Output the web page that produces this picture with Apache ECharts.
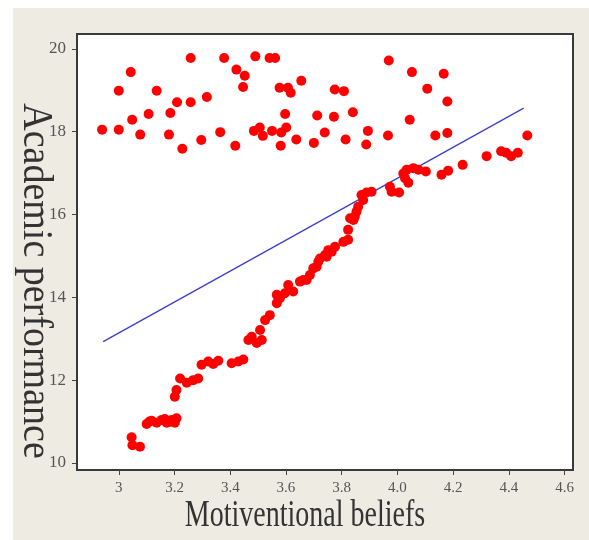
<!DOCTYPE html>
<html><head><meta charset="utf-8">
<script src="https://cdn.jsdelivr.net/npm/echarts@6/dist/echarts.min.js"></script>
<style>html,body{margin:0;padding:0;background:#fff}#c{width:589px;height:540px}</style>
</head><body><div id="c"></div>
<script>
const xTicks = [3, 3.2, 3.4, 3.6, 3.8, 4.0, 4.2, 4.4, 4.6];
const xTickLabels = ['3', '3.2', '3.4', '3.6', '3.8', '4.0', '4.2', '4.4', '4.6'];
const yTicks = [10, 12, 14, 16, 18, 20];
const yTickLabels = ['10', '12', '14', '16', '18', '20'];

const upperPoints = [
  [2.94,18.05],[3.0,18.05],[3.0,18.99],[3.043,19.44],[3.048,18.29],[3.077,17.93],[3.107,18.43],
  [3.136,18.99],[3.18,17.93],[3.185,18.45],[3.209,18.71],[3.228,17.59],[3.258,19.78],[3.258,18.71],
  [3.296,17.80],[3.316,18.84],[3.364,17.99],[3.378,19.78],[3.418,17.66],[3.422,19.5],[3.446,19.08],
  [3.452,19.35],[3.485,18.02],[3.49,19.82],[3.506,18.1],[3.517,17.9],[3.541,19.78],[3.55,18.02],
  [3.561,19.78],[3.577,19.06],[3.581,17.66],[3.583,17.98],[3.597,18.43],[3.601,18.1],[3.607,19.06],
  [3.617,18.94],[3.637,17.81],[3.655,19.23],[3.7,17.73],[3.712,18.39],[3.739,17.98],[3.772,18.36],
  [3.775,19.02],[3.808,18.98],[3.814,17.81],[3.84,18.47],[3.888,17.69],[3.894,18.02],[3.966,17.91],
  [3.969,19.72],[4.044,18.29],[4.052,19.44],[4.107,19.04],[4.136,17.91],[4.166,19.4],[4.179,18.73],
  [4.179,17.97],[4.466,17.91]
];

const lowerPoints = [
  [3.046,10.62],[3.049,10.43],[3.076,10.39],
  [3.1,10.94],[3.11,11.0],[3.118,11.02],[3.136,10.97],[3.154,11.04],[3.165,11.06],[3.172,10.97],
  [3.18,10.99],[3.19,11.04],[3.201,10.97],[3.207,11.08],
  [3.201,11.6],[3.207,11.76],[3.22,12.04],[3.244,11.94],[3.267,12.0],[3.285,12.04],[3.297,12.37],
  [3.321,12.45],[3.339,12.39],[3.357,12.47],[3.405,12.41],[3.429,12.45],[3.447,12.5],[3.465,12.97],
  [3.477,13.05],[3.495,12.9],[3.513,12.97],[3.507,13.21],[3.525,13.45],[3.542,13.57],[3.567,13.86],
  [3.567,14.06],[3.578,13.98],[3.596,14.1],[3.608,14.3],[3.626,14.14],[3.65,14.38],[3.662,14.42],
  [3.674,14.42],[3.686,14.54],[3.698,14.7],[3.71,14.74],[3.716,14.86],[3.722,14.94],[3.74,15.02],
  [3.746,14.98],[3.752,15.14],[3.764,15.1],[3.776,15.22],[3.806,15.34],[3.823,15.39],[3.823,15.63],
  [3.83,15.91],[3.842,15.87],[3.847,15.95],[3.853,16.07],[3.859,16.19],[3.871,16.47],[3.877,16.35],
  [3.889,16.53],[3.907,16.55],[3.973,16.67],[3.979,16.55],[4.006,16.53],[4.027,16.88],[4.039,16.77],
  [4.021,16.99],[4.033,17.08],[4.057,17.12],[4.075,17.08],[4.102,17.04],[4.158,16.96],[4.182,17.06],
  [4.234,17.2],[4.32,17.41],[4.372,17.53],[4.39,17.49],[4.408,17.41],[4.432,17.49]
];

const fitLine = [[2.944, 12.93], [4.453, 18.57]];

function lookup(ticks, labels, v) {
  for (let i = 0; i < ticks.length; i++) if (Math.abs(ticks[i] - v) < 1e-6) return labels[i];
  return '';
}

const chart = echarts.init(document.getElementById('c'), null, {renderer: 'canvas'});
const serif = 'Liberation Serif, DejaVu Serif, serif';
chart.setOption({
  animation: false,
  backgroundColor: '#ffffff',
  graphic: [
    {type: 'rect', z: -10, silent: true, shape: {x: 13, y: 8, width: 576, height: 532}, style: {fill: '#eeebe3'}},
    {type: 'text', x: 305, y: 516, scaleY: 1.39, z: 10,
      style: {text: 'Motiventional beliefs', font: '28px ' + serif, fill: '#333', textAlign: 'center', textVerticalAlign: 'middle'}},
    {type: 'text', x: 35, y: 281, rotation: -Math.PI / 2, scaleY: 1.1, z: 10,
      style: {text: 'Academic performance', font: '38px ' + serif, fill: '#333', textAlign: 'center', textVerticalAlign: 'middle'}}
  ],
  grid: {left: 77, right: 16, top: 34, bottom: 70, show: true, backgroundColor: '#ffffff', borderColor: '#3a3a3a', borderWidth: 2},
  xAxis: {
    type: 'value', min: 2.85, max: 4.63,
    axisLine: {show: true, lineStyle: {color: '#3a3a3a', width: 2}},
    splitLine: {show: false},
    axisTick: {show: true, customValues: xTicks, length: 5, lineStyle: {color: '#444', width: 1}},
    axisLabel: {customValues: xTicks, margin: 11, color: '#555', fontFamily: serif, fontSize: 15,
      formatter: v => lookup(xTicks, xTickLabels, v)}
  },
  yAxis: {
    type: 'value', min: 9.83, max: 20.36,
    axisLine: {show: true, lineStyle: {color: '#3a3a3a', width: 2}},
    splitLine: {show: false},
    axisTick: {show: true, customValues: yTicks, length: 5, lineStyle: {color: '#444', width: 1}},
    axisLabel: {customValues: yTicks, margin: 11, color: '#555', fontFamily: serif, fontSize: 17,
      formatter: v => lookup(yTicks, yTickLabels, v)}
  },
  series: [
    {type: 'line', data: fitLine, showSymbol: false, z: 1, lineStyle: {color: '#3b3bd0', width: 1.2}},
    {type: 'scatter', data: upperPoints, symbolSize: 10, z: 2, itemStyle: {color: '#ff0000', opacity: 1}},
    {type: 'scatter', data: lowerPoints, symbolSize: 10, z: 2, itemStyle: {color: '#ff0000', opacity: 1}}
  ]
});
</script></body></html>
